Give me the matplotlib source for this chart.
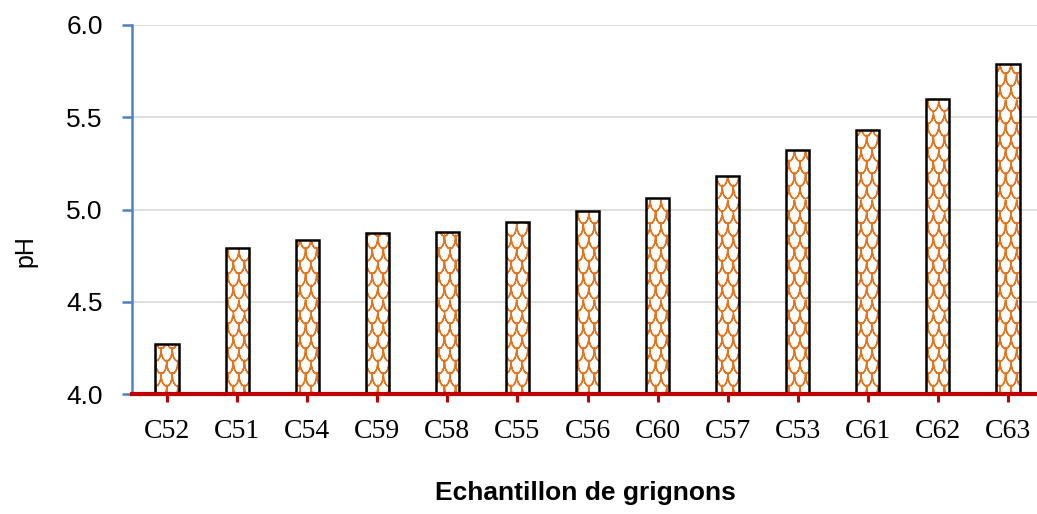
import warnings
import numpy as np
import matplotlib
matplotlib.use("Agg")
import matplotlib.pyplot as plt
import matplotlib.hatch as mhatch
from matplotlib.path import Path

warnings.filterwarnings("ignore")

categories = ["C52", "C51", "C54", "C59", "C58", "C55", "C56", "C60", "C57", "C53", "C61", "C62", "C63"]
ph_values = [4.27, 4.79, 4.835, 4.875, 4.88, 4.93, 4.99, 5.06, 5.18, 5.32, 5.43, 5.60, 5.79]
y_ticks = [4.0, 4.5, 5.0, 5.5, 6.0]


class ScaleHatch(mhatch.HatchPatternBase):
    """Fish-scale style hatch (used with the '~' character)."""
    cols = 9
    rows = 8
    pts = 9

    def __init__(self, hatch, density):
        self.active = hatch.count('~') > 0
        self.seg = 2 * self.pts - 1
        self.num_vertices = (self.cols + 1) * self.rows * self.seg if self.active else 0

    def set_vertices_and_codes(self, vertices, codes):
        w = 1.0 / self.cols
        rh = 1.0 / self.rows
        t = np.linspace(0, np.pi, self.pts)
        i = 0
        for r in range(self.rows):
            y0 = (r + 1) * rh
            off = 0.0 if r % 2 == 0 else -w / 2
            for c in range(self.cols + 1):
                x0 = off + c * w
                xs = x0 + w * (1 - np.cos(t)) / 2
                ys = y0 - rh * 0.9 * np.sin(t)
                # go forward then back so the (filled) path has zero area
                xs = np.concatenate([xs, xs[-2::-1]])
                ys = np.concatenate([ys, ys[-2::-1]])
                vertices[i:i + self.seg, 0] = xs
                vertices[i:i + self.seg, 1] = ys
                codes[i] = Path.MOVETO
                codes[i + 1:i + self.seg] = Path.LINETO
                i += self.seg


mhatch._hatch_types.append(ScaleHatch)

W, H = 1037, 514
fig = plt.figure(figsize=(W / 100, H / 100), dpi=100)
ax = fig.add_axes([132 / W, (H - 394) / H, (1043 - 132) / W, (394 - 25) / H])

plt.rcParams['hatch.linewidth'] = 1.0
plt.rcParams['hatch.color'] = '#E8731A'
x = list(range(len(categories)))
heights = [v - 4.0 for v in ph_values]
ax.bar(x, heights, bottom=4.0, width=0.33, color='white',
       edgecolor='#E8731A', hatch='~', linewidth=0, zorder=2)
ax.bar(x, heights, bottom=4.0, width=0.33, color='none',
       edgecolor='black', linewidth=1.8, zorder=3)

ax.set_xlim(-0.5, len(categories) - 0.5)
ax.set_ylim(4.0, 6.0)
ax.set_yticks(y_ticks)
ax.set_yticklabels([f"{t:.1f}" for t in y_ticks], fontfamily='Liberation Sans', fontsize=19)
ax.set_xticks(x)
ax.set_xticklabels(categories, fontfamily='Liberation Serif', fontsize=20)

ax.grid(axis='y', color='#D9D9D9', linewidth=1.2, zorder=0)
ax.set_axisbelow(True)

for s in ['top', 'right']:
    ax.spines[s].set_visible(False)
ax.spines['left'].set_color('#4F81BD')
ax.spines['left'].set_linewidth(1.8)
ax.spines['bottom'].set_color('#C00000')
ax.spines['bottom'].set_linewidth(3)
ax.spines['bottom'].set_zorder(4)
ax.tick_params(axis='y', colors='#4F81BD', length=7, width=1.8, labelcolor='black', pad=14)
ax.tick_params(axis='x', colors='#C00000', length=6, width=2.2, labelcolor='black', pad=12)

fig.text(25 / W, (H - 251) / H, "pH", rotation=90,
         fontfamily='Liberation Sans', fontsize=18, ha='center', va='center')
fig.text(585 / W, (H - 493) / H, "Echantillon de grignons",
         fontfamily='Liberation Sans', fontweight='bold', fontsize=19, ha='center', va='center')

fig.savefig("out.png", dpi=100)
